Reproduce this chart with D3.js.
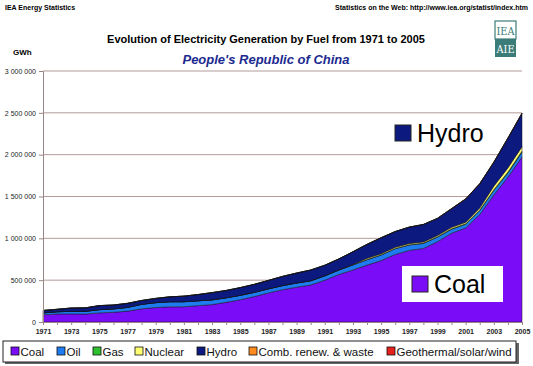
<!DOCTYPE html>
<html>
<head>
<meta charset="utf-8">
<script src="https://cdn.jsdelivr.net/npm/d3@7"></script>
<style>
  body { margin: 0; background: #fff; }
  svg { display: block; font-family: Arial, "Liberation Sans", sans-serif; }
</style>
</head>
<body>
<div id="chart"></div>
<script>
// years and generation by fuel (GWh)
var years = d3.range(1971, 2006);
var coal = [86000, 96000, 97000, 95000, 109000, 116000, 130000, 157000, 173000, 181000,
            182000, 195000, 208000, 235000, 266000, 304000, 348000, 386000, 416000, 442000,
            500000, 568000, 622000, 680000, 734000, 808000, 856000, 879000, 960000, 1062000,
            1124000, 1285000, 1518000, 1732000, 1971000];
var oil = [22000, 26000, 30000, 32000, 38000, 40000, 44000, 54000, 58000, 61000,
           60000, 58000, 56000, 54000, 52000, 50000, 48000, 48000, 49000, 49000,
           50000, 52000, 60000, 64000, 67000, 68000, 65000, 60000, 55000, 46000,
           45000, 47000, 55000, 50000, 60000];
var gas = [1000, 1000, 1000, 1000, 1000, 1000, 1000, 1000, 1000, 1000,
           1000, 1000, 1000, 1000, 1000, 1000, 1000, 2000, 2000, 3000,
           3000, 3000, 3000, 3000, 2000, 3000, 3000, 4000, 4000, 6000,
           6000, 6000, 8000, 10000, 12000];
var nuclear = [0, 0, 0, 0, 0, 0, 0, 0, 0, 0,
               0, 0, 0, 0, 0, 0, 0, 0, 0, 0,
               0, 0, 2500, 14000, 13000, 14000, 14000, 14000, 15000, 17000,
               17000, 25000, 43000, 50000, 53000];
var hydro = [29000, 29000, 39000, 41000, 48000, 46000, 48000, 45000, 50000, 58000,
             66000, 74000, 86000, 87000, 92000, 95000, 100000, 109000, 118000, 127000,
             125000, 131000, 152000, 167000, 191000, 188000, 196000, 208000, 204000, 222000,
             277000, 288000, 284000, 354000, 397000];
var renew = [0, 0, 0, 0, 0, 0, 0, 0, 0, 0,
             0, 0, 0, 0, 0, 0, 0, 0, 0, 0,
             0, 0, 0, 0, 0, 0, 0, 1000, 1000, 2000,
             2000, 2000, 2000, 2000, 2000];
var geo = [0, 0, 0, 0, 0, 0, 0, 0, 0, 0,
           0, 0, 0, 0, 0, 0, 0, 0, 0, 0,
           0, 0, 0, 0, 0, 0, 0, 0, 0, 1000,
           1000, 1000, 1000, 2000, 2000];

var fuels = ['Coal', 'Oil', 'Gas', 'Nuclear', 'Hydro', 'Comb. renew. & waste', 'Geothermal/solar/wind'];
var fuelColors = ['#7a0cf8', '#1e7cf0', '#2fc02f', '#ffff70', '#0c1a80', '#ff8a1e', '#e8201c'];
var yTicks = [0, 500000, 1000000, 1500000, 2000000, 2500000, 3000000];
var xLabels = d3.range(1971, 2006, 2);

var series = [coal, oil, gas, nuclear, hydro, renew, geo];
var table = years.map(function(yr, i) {
  var row = {year: yr};
  fuels.forEach(function(f, k) { row[f] = series[k][i]; });
  return row;
});

var W = 533, H = 366;
var svg = d3.select('#chart').append('svg').attr('width', W).attr('height', H);

var x = d3.scaleLinear().domain([1971, 2005]).range([43, 522]);
var y = d3.scaleLinear().domain([0, 3000000]).range([322, 71]);
var color = d3.scaleOrdinal().domain(fuels).range(fuelColors);

// header texts
svg.append('text').attr('x', 5).attr('y', 10).attr('font-size', 7).attr('font-weight', 'bold')
   .text('IEA Energy Statistics');
svg.append('text').attr('x', 528).attr('y', 10).attr('font-size', 7).attr('font-weight', 'bold')
   .attr('text-anchor', 'end').text('Statistics on the Web: http://www.iea.org/statist/index.htm');

svg.append('text').attr('x', 266).attr('y', 43).attr('font-size', 11).attr('font-weight', 'bold')
   .attr('text-anchor', 'middle').text('Evolution of Electricity Generation by Fuel from 1971 to 2005');
svg.append('text').attr('x', 266).attr('y', 64).attr('font-size', 13).attr('font-weight', 'bold')
   .attr('font-style', 'italic').attr('fill', '#1c2a90').attr('text-anchor', 'middle')
   .text("People's Republic of China");
svg.append('text').attr('x', 13).attr('y', 55).attr('font-size', 8).attr('font-weight', 'bold')
   .text('GWh');

// logo
var logo = svg.append('g').attr('transform', 'translate(495,21)');
logo.append('rect').attr('width', 21).attr('height', 18).attr('fill', '#fff')
    .attr('stroke', '#3c7c78').attr('stroke-width', 1.2);
logo.append('rect').attr('y', 18).attr('width', 21).attr('height', 18).attr('fill', '#3c7c78');
logo.append('text').attr('x', 10.5).attr('y', 14).attr('font-size', 11).attr('text-anchor', 'middle')
    .attr('fill', '#3c7c78').attr('font-family', 'DejaVu Serif').attr('textLength', 18)
    .attr('lengthAdjust', 'spacingAndGlyphs').text('IEA');
logo.append('text').attr('x', 10.5).attr('y', 32).attr('font-size', 11).attr('text-anchor', 'middle')
    .attr('fill', '#fff').attr('font-family', 'DejaVu Serif').attr('textLength', 18)
    .attr('lengthAdjust', 'spacingAndGlyphs').text('AIE');

// gridlines
svg.append('g').selectAll('line').data(yTicks.slice(1)).enter().append('line')
   .attr('x1', 43).attr('x2', 522)
   .attr('y1', function(d) { return y(d); }).attr('y2', function(d) { return y(d); })
   .attr('stroke', '#b49a9a').attr('stroke-width', 1);

// stacked areas
var stack = d3.stack().keys(fuels);
var layers = stack(table);
var area = d3.area()
  .x(function(d) { return x(d.data.year); })
  .y0(function(d) { return y(d[0]); })
  .y1(function(d) { return y(d[1]); });

svg.append('g').selectAll('path').data(layers).enter().append('path')
   .attr('d', area)
   .attr('fill', function(d) { return color(d.key); })
   .attr('stroke', '#111').attr('stroke-width', 0.5);

// y axis
var yAxis = svg.append('g').attr('transform', 'translate(43,0)')
   .call(d3.axisLeft(y).tickValues(yTicks).tickSize(4)
   .tickFormat(function(d) { return d3.format(',')(d).replace(/,/g, ' '); }));
yAxis.select('.domain').attr('stroke', '#9a8686');
yAxis.selectAll('.tick line').attr('stroke', '#9a8686');
yAxis.selectAll('text').attr('font-size', 7).attr('fill', '#222').attr('font-family', 'Arial');

// x axis
var xAxis = svg.append('g').attr('transform', 'translate(0,322)')
   .call(d3.axisBottom(x).tickValues(years).tickSize(3).tickSizeOuter(0)
   .tickFormat(function(d) { return xLabels.indexOf(d) >= 0 ? d : ''; }));
xAxis.select('.domain').attr('stroke', '#9a8686');
xAxis.selectAll('.tick line').attr('stroke', '#9a8686');
xAxis.selectAll('text').attr('font-size', 7).attr('font-weight', 'bold').attr('fill', '#222')
     .attr('font-family', 'Arial').attr('dy', '0.9em');

// inset labels
function inset(bx, by, bw, bh, key, label) {
  var g = svg.append('g');
  g.append('rect').attr('x', bx).attr('y', by).attr('width', bw).attr('height', bh).attr('fill', '#fff');
  g.append('rect').attr('x', bx + 10).attr('y', by + (bh - 16) / 2).attr('width', 16).attr('height', 16)
   .attr('fill', color(key)).attr('stroke', '#222').attr('stroke-width', 1);
  g.append('text').attr('x', bx + 32).attr('y', by + bh / 2 + 9).attr('font-size', 25).text(label);
}
inset(385, 120, 104, 26, 'Hydro', 'Hydro');
inset(402, 266, 101, 36, 'Coal', 'Coal');

// legend
var lg = svg.append('g');
lg.append('rect').attr('x', 5).attr('y', 343).attr('width', 514).attr('height', 21).attr('fill', '#666');
lg.append('rect').attr('x', 3).attr('y', 341).attr('width', 513).attr('height', 21)
  .attr('fill', '#fff').attr('stroke', '#222').attr('stroke-width', 1);
var legX = [11, 57, 93, 135, 197, 249, 387];
var items = lg.selectAll('g.item').data(fuels).enter().append('g')
  .attr('transform', function(d, i) { return 'translate(' + legX[i] + ',347)'; });
items.append('rect').attr('width', 8).attr('height', 8)
  .attr('fill', function(d) { return color(d); }).attr('stroke', '#111').attr('stroke-width', 0.8);
items.append('text').attr('x', 9.5).attr('y', 8.5).attr('font-size', 11.5).attr('fill', '#111')
  .text(function(d) { return d; });
</script>
</body>
</html>
